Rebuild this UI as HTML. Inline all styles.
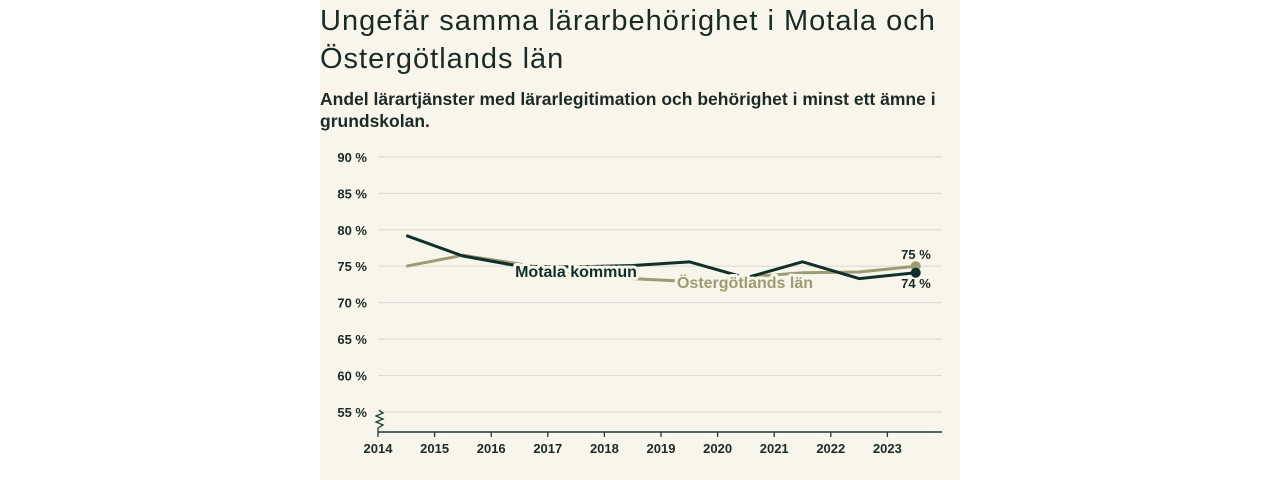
<!DOCTYPE html>
<html><head><meta charset="utf-8">
<style>
body{margin:0;width:1280px;height:480px;background:#fff;font-family:"Liberation Sans",sans-serif;}
#card{position:absolute;left:320px;top:0;width:640px;height:480px;background:#f8f6eb;}
h1{position:absolute;left:0;top:2px;margin:0;font-size:29px;line-height:38px;font-weight:normal;color:#1b2a25;width:640px;letter-spacing:1px}
h2{position:absolute;left:0;top:88px;margin:0;font-size:17.5px;line-height:22px;font-weight:bold;color:#1b2a25;width:640px}
svg{position:absolute;left:0;top:0}
</style></head><body>
<div id="card">
<h1>Ungefär samma lärarbehörighet i Motala och Östergötlands län</h1>
<h2>Andel lärartjänster med lärarlegitimation och behörighet i minst ett ämne i grundskolan.</h2>
</div>
<svg id="chart" width="1280" height="480"></svg>
<script>
const years=[2014,2015,2016,2017,2018,2019,2020,2021,2022,2023];
const yTicks=[55,60,65,70,75,80,85,90];
const motala=[79.2,76.4,75.0,74.9,75.1,75.6,73.4,75.6,73.3,74.1];
const oster=[75.0,76.5,75.3,73.8,73.3,72.9,73.5,74.1,74.2,75.0];
const NS="http://www.w3.org/2000/svg";
const svg=document.getElementById('chart');
const x0=378,step=56.6;
function X(v){return x0+(v-2014)*step;}
function Y(v){return 412-(v-55)*7.29;}
function el(t,a,p){const e=document.createElementNS(NS,t);for(const k in a)e.setAttribute(k,a[k]);(p||svg).appendChild(e);return e;}
const txt="#1b2a25";
yTicks.forEach(t=>{
 const g=el('line',{x1:378,x2:942,y1:Y(t),y2:Y(t),stroke:'#dddcd6','stroke-width':1.2});
 
 
 const l=el('text',{x:367,y:Y(t)+5,'text-anchor':'end','font-size':13,'font-weight':'bold',fill:txt});
 l.textContent=t+' %';
 
 
});
const ax=el('line',{x1:378,x2:942,y1:432,y2:432,stroke:'#1e3a32','stroke-width':1.5});


const br=el('polyline',{points:'379,410 383,413 376,416 383,419 376,422 383,425 378,428 378,432',fill:'none',stroke:'#1e3a32','stroke-width':1.3});


years.forEach(yr=>{
 const tk=el('line',{x1:X(yr),x2:X(yr),y1:432,y2:437,stroke:'#1e3a32','stroke-width':1.3});
 
 
 const l=el('text',{x:X(yr),y:453,'text-anchor':'middle','font-size':13,'font-weight':'bold',fill:txt});
 l.textContent=yr;
 
 
});
function line(data,col,name){
 const p=el('polyline',{points:data.map((v,i)=>X(years[i]+0.5)+','+Y(v)).join(' '),fill:'none',stroke:col,'stroke-width':3,'stroke-linejoin':'round'});
 
 
 const c=el('circle',{cx:X(years[9]+0.5),cy:Y(data[9]),r:5,fill:col});
 
 
}
line(oster,'#9d9a74','series-ostergotland');
line(motala,'#0e3029','series-motala');
function lab(s,x,y,col,name,anchor,size,halo){
 const t=el('text',{x:x,y:y,'text-anchor':anchor,'font-size':size,'font-weight':'bold',fill:col,stroke:halo?'#f8f6eb':'none','stroke-width':halo?6:0,'paint-order':'stroke','stroke-linejoin':'round'});
 t.textContent=s;
 
 
}
lab('Motala kommun',576,277,'#0e3029','label-motala','middle',16,true);
lab('Östergötlands län',745,288,'#9d9a74','label-ostergotland','middle',16,true);
lab(Math.round(oster[9])+' %',916,259,txt,'value-ostergotland','middle',13,false);
lab(Math.round(motala[9])+' %',916,288,txt,'value-motala','middle',13,false);
</script>
</body></html>
